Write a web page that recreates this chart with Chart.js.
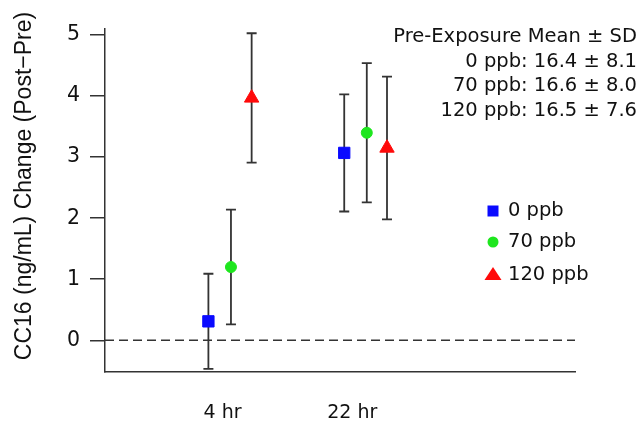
<!DOCTYPE html>
<html>
<head>
<meta charset="utf-8">
<script src="https://cdn.jsdelivr.net/npm/chart.js@4.4.0/dist/chart.umd.min.js"></script>
<style>
  html, body { margin: 0; padding: 0; background: #fff; }
  #wrap { width: 642px; height: 422px; }
</style>
</head>
<body>
<div id="wrap"><canvas id="myChart" width="642" height="422"></canvas></div>
<script>
var timepoints = ["4 hr", "22 hr"];
var groups = ["0 ppb", "70 ppb", "120 ppb"];

// change in CC16 (post - pre), mean and SD per exposure
var mean0 = [0.31, 3.07];
var sd0 = [0.78, 0.96];
var mean70 = [1.20, 3.40];
var sd70 = [0.94, 1.14];
var mean120 = [3.97, 3.15];
var sd120 = [1.06, 1.17];

// pre-exposure baseline per group
var preMean = [16.4, 16.6, 16.5];
var preSD = [8.1, 8.0, 7.6];

var yTicks = [0, 1, 2, 3, 4, 5];

// placement along the x axis (axis runs 0..10)
var tickX = [2.5, 5.26];
var x0 = [2.2, 5.09];
var x70 = [2.68, 5.57];
var x120 = [3.12, 6.0];

var colors = ["#0a0aff", "#1ee61e", "#ff0a0a"];
var lineColor = "#333";

Chart.defaults.font.family = "'DejaVu Sans', sans-serif";
Chart.defaults.font.size = 19;
Chart.defaults.color = "#111";

function points(xs, ys) {
  return xs.map(function (x, i) { return { x: x, y: ys[i] }; });
}

// vertical SD bars with caps, drawn under the markers
var errorBars = {
  id: "errorBars",
  beforeDatasetsDraw: function (chart) {
    var c = chart.ctx, xs = chart.scales.x, ys = chart.scales.y;
    c.save();
    c.strokeStyle = lineColor;
    c.lineWidth = 1.8;
    chart.data.datasets.forEach(function (ds) {
      ds.data.forEach(function (p, i) {
        var x = xs.getPixelForValue(p.x);
        var top = ys.getPixelForValue(p.y + ds.err[i]);
        var bot = ys.getPixelForValue(p.y - ds.err[i]);
        c.beginPath();
        c.moveTo(x, top); c.lineTo(x, bot);
        c.moveTo(x - 5, top); c.lineTo(x + 5, top);
        c.moveTo(x - 5, bot); c.lineTo(x + 5, bot);
        c.stroke();
      });
    });
    c.restore();
  }
};

// dashed reference line at zero change
var zeroLine = {
  id: "zeroLine",
  beforeDatasetsDraw: function (chart) {
    var c = chart.ctx, a = chart.chartArea;
    var y = chart.scales.y.getPixelForValue(0);
    c.save();
    c.strokeStyle = lineColor;
    c.lineWidth = 1.5;
    c.setLineDash([9, 5]);
    c.beginPath();
    c.moveTo(a.left, y); c.lineTo(a.right, y);
    c.stroke();
    c.restore();
  }
};

var yTitle = {
  id: "yTitle",
  afterDraw: function (chart) {
    var c = chart.ctx;
    c.save();
    c.translate(25, 186);
    c.rotate(-Math.PI / 2);
    c.font = "23px 'Liberation Sans', sans-serif";
    c.fillStyle = "#111";
    c.textAlign = "center";
    c.textBaseline = "middle";
    c.fillText("CC16 (ng/mL) Change (Post\u2212Pre)", 0, 0);
    c.restore();
  }
};

function marker(c, style, x, y, color) {
  c.fillStyle = color;
  c.beginPath();
  if (style === "rect") {
    c.rect(x - 5.5, y - 5.5, 11, 11);
  } else if (style === "circle") {
    c.arc(x, y, 5.5, 0, Math.PI * 2);
  } else {
    c.moveTo(x, y - 8);
    c.lineTo(x + 8.5, y + 5);
    c.lineTo(x - 8.5, y + 5);
    c.closePath();
  }
  c.fill();
}

var keyBox = {
  id: "keyBox",
  afterDraw: function (chart) {
    var c = chart.ctx;
    var rows = [211, 242, 275];
    c.save();
    c.font = "19.5px 'DejaVu Sans', sans-serif";
    c.textAlign = "left";
    c.textBaseline = "middle";
    chart.data.datasets.forEach(function (ds, i) {
      marker(c, ds.pointStyle, 493, rows[i], ds.backgroundColor);
      c.fillStyle = "#111";
      c.fillText(ds.label, 508, rows[i]);
    });
    c.restore();
  }
};

var preNote = {
  id: "preNote",
  afterDraw: function (chart) {
    var c = chart.ctx;
    var lines = ["Pre-Exposure Mean \u00b1 SD"];
    groups.forEach(function (g, i) {
      lines.push(g + ": " + preMean[i].toFixed(1) + " \u00b1 " + preSD[i].toFixed(1));
    });
    c.save();
    c.font = "19.5px 'DejaVu Sans', sans-serif";
    c.fillStyle = "#111";
    c.textAlign = "right";
    c.textBaseline = "middle";
    lines.forEach(function (t, i) {
      c.fillText(t, 637, 37 + i * 24.7);
    });
    c.restore();
  }
};

var ctx = document.getElementById("myChart");
var myChart = new Chart(ctx, {
  type: "scatter",
  data: {
    datasets: [
      { label: groups[0], data: points(x0, mean0), err: sd0, pointStyle: "rect", pointRadius: 8,
        backgroundColor: colors[0], borderColor: colors[0], borderWidth: 1 },
      { label: groups[1], data: points(x70, mean70), err: sd70, pointStyle: "circle", pointRadius: 5.5,
        backgroundColor: colors[1], borderColor: colors[1], borderWidth: 1 },
      { label: groups[2], data: points(x120, mean120), err: sd120, pointStyle: "triangle", pointRadius: 8.3,
        backgroundColor: colors[2], borderColor: colors[2], borderWidth: 1 }
    ]
  },
  options: {
    responsive: false,
    animation: false,
    layout: { padding: { top: 29, right: 67, left: 0, bottom: 0 } },
    plugins: { legend: { display: false }, tooltip: { enabled: false } },
    scales: {
      x: {
        type: "linear", min: 0, max: 10,
        afterBuildTicks: function (s) { s.ticks = tickX.map(function (v) { return { value: v }; }); },
        afterFit: function (s) { s.height = 50; },
        ticks: { padding: 22, maxRotation: 0, callback: function (v, i) { return timepoints[i]; } },
        grid: { display: false },
        border: { color: lineColor, width: 1.5 }
      },
      y: {
        min: -0.52, max: 5.1,
        afterBuildTicks: function (s) { s.ticks = yTicks.map(function (v) { return { value: v }; }); },
        afterFit: function (s) { s.width = 105; },
        ticks: { padding: 10, font: { size: 20.5 } },
        grid: { drawOnChartArea: false, tickLength: 15, color: lineColor, lineWidth: 1.5 },
        border: { color: lineColor, width: 1.5 }
      }
    }
  },
  plugins: [zeroLine, errorBars, yTitle, keyBox, preNote]
});
</script>
</body>
</html>
